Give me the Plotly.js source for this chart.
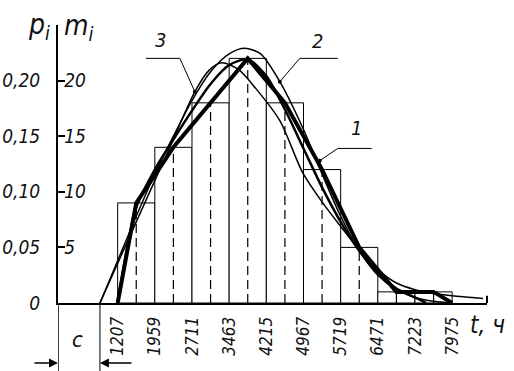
<!DOCTYPE html>
<html>
<head>
<meta charset="utf-8">
<script src="https://cdn.plot.ly/plotly-3.0.1.min.js"></script>
<style>html,body{margin:0;padding:0;background:#fff;}#chart{width:514px;height:371px;}</style>
</head>
<body>
<div id="chart"></div>
<script>
// ---- data ----
const edges = [1207, 1959, 2711, 3463, 4215, 4967, 5719, 6471, 7223, 7975];
const counts = [9, 14, 18, 22, 18, 12, 5, 1, 1];
const pTickVals = [0, 5, 10, 15, 20];
const pTickText = ['0', '0,05', '0,10', '0,15', '0,20'];
const mTickVals = [5, 10, 15, 20, 25];
const mTickText = ['5', '10', '15', '20', ''];
const cShift = 849;

// curve 1 (smoothed empirical)
const curve1T = [1207, 1400, 1583, 1959, 2335, 2711, 3087, 3463, 3839, 4215, 4591, 4967, 5343, 5719, 6095, 6471, 6847, 7223, 7450];
const curve1M = [0, 5.0, 8.6, 12.0, 14.7, 17.3, 19.7, 21.4, 21.9, 20.4, 17.4, 13.9, 10.4, 7.3, 4.7, 2.7, 1.3, 0.5, 0];
// curve 2
const curve2T = [849, 1207, 1583, 1959, 2335, 2711, 3087, 3463, 3780, 4100, 4488, 4967, 5343, 5719, 6095, 6471, 6847, 7223, 7600, 7975];
const curve2M = [0, 3.8, 7.8, 11.6, 15.0, 18.2, 20.8, 22.4, 22.9, 22.4, 19.9, 15.6, 11.6, 7.8, 4.7, 2.5, 1.2, 0.5, 0.15, 0];
// curve 3
const curve3T = [849, 1583, 2203, 2770, 3050, 3315, 3650, 4000, 4488, 4953, 5357, 5700, 6095, 6471, 6847, 7223, 7600, 7975, 8600];
const curve3M = [0, 7.3, 13.4, 19.0, 20.9, 21.6, 21.0, 19.3, 16.4, 11.7, 9.0, 7.0, 4.8, 3.0, 1.8, 1.2, 0.85, 0.65, 0.4];

// ---- derived ----
const mids = counts.map((_, i) => (edges[i] + edges[i + 1]) / 2);
const widths = counts.map((_, i) => edges[i + 1] - edges[i]);
const midX = [], midY = [];
mids.forEach((m, i) => { midX.push(m, m, null); midY.push(0, counts[i], null); });
const polyX = [edges[0]].concat(mids, [edges[edges.length - 1]]);
const polyY = [0].concat(counts, [0]);

const FONT = "'Liberation Sans Narrow', 'DejaVu Sans Condensed', 'Liberation Sans', sans-serif";
const tf = (s) => ({family: FONT, size: s, color: '#111', style: 'italic'});

const traces = [
  {type: 'bar', x: mids, y: counts, width: widths, marker: {color: 'white', line: {color: 'black', width: 1}}, hoverinfo: 'none'},
  {type: 'scatter', mode: 'lines', x: midX, y: midY, line: {color: 'black', width: 1.2, dash: '9px,5px'}, hoverinfo: 'none'},
  {type: 'scatter', mode: 'lines', x: curve3T, y: curve3M, line: {color: 'black', width: 1.5, shape: 'spline', smoothing: 0.8}},
  {type: 'scatter', mode: 'lines', x: curve2T, y: curve2M, line: {color: 'black', width: 1.5, shape: 'spline', smoothing: 0.8}},
  {type: 'scatter', mode: 'lines', x: curve1T, y: curve1M, line: {color: 'black', width: 2.5, shape: 'spline', smoothing: 0.8}},
  {type: 'scatter', mode: 'lines', x: polyX, y: polyY, line: {color: 'black', width: 4}},
  {type: 'scatter', mode: 'markers', x: [2769, 4488, 5296], y: [19.0, 19.9, 12.8], marker: {color: 'black', size: 4}},
  {type: 'scatter', mode: 'lines', x: [0], y: [0], yaxis: 'y2', line: {color: 'rgba(0,0,0,0)'}}
];

const layout = {
  width: 514, height: 371,
  margin: {l: 58, r: 27, t: 25, b: 68, pad: 0},
  paper_bgcolor: 'white', plot_bgcolor: 'white',
  showlegend: false, barmode: 'overlay',
  xaxis: {
    range: [0, 8680], showline: true, linewidth: 2, linecolor: 'black',
    showgrid: false, zeroline: false,
    tickvals: edges, ticktext: edges.map(String), tickangle: -90,
    ticks: 'outside', ticklen: 5, tickcolor: 'rgba(0,0,0,0)',
    tickfont: tf(17)
  },
  yaxis: {
    range: [0, 25], showline: true, linewidth: 2, linecolor: 'black',
    showgrid: false, zeroline: false,
    tickvals: pTickVals, ticktext: pTickText,
    ticks: 'outside', ticklen: 12, tickcolor: 'rgba(0,0,0,0)',
    tickfont: tf(19)
  },
  yaxis2: {
    range: [0, 25], overlaying: 'y', side: 'left', showline: false,
    showgrid: false, zeroline: false,
    tickvals: mTickVals, ticktext: mTickText,
    ticks: 'inside', ticklen: 7, tickwidth: 2, tickcolor: 'black',
    ticklabelposition: 'inside', tickfont: tf(19)
  },
  shapes: [
    {type: 'line', xref: 'x', yref: 'paper', x0: 0, x1: 0, y0: 0, y1: -0.245, line: {color: 'black', width: 1.5}},
    {type: 'line', xref: 'x', yref: 'paper', x0: cShift, x1: cShift, y0: 0, y1: -0.245, line: {color: 'black', width: 1}},
    {type: 'line', xref: 'paper', yref: 'paper', x0: 1, x1: 1, y0: 0, y1: 0.026, line: {color: 'black', width: 2}},
    {type: 'path', xref: 'x', yref: 'y', path: 'M 1779 22.0 L 2466 22.0 L 2769 19.0', line: {color: 'black', width: 1}},
    {type: 'path', xref: 'x', yref: 'y', path: 'M 5660 22.0 L 4892 22.0 L 4488 19.9', line: {color: 'black', width: 1}},
    {type: 'path', xref: 'x', yref: 'y', path: 'M 6347 13.9 L 5660 13.9 L 5296 12.8', line: {color: 'black', width: 1}}
  ],
  annotations: [
    {xref: 'paper', yref: 'paper', x: -0.044, y: 0.995, text: 'p<sub>i</sub>', showarrow: false, font: tf(28), xanchor: 'center', yanchor: 'middle'},
    {xref: 'paper', yref: 'paper', x: 0.05, y: 0.99, text: 'm<sub>i</sub>', showarrow: false, font: tf(28), xanchor: 'center', yanchor: 'middle'},
    {xref: 'paper', yref: 'paper', x: 1.0, y: -0.08, text: 't, ч', showarrow: false, font: tf(24), xanchor: 'center', yanchor: 'middle'},
    {xref: 'paper', yref: 'paper', x: 0.045, y: -0.133, text: 'c', showarrow: false, font: tf(22), xanchor: 'center', yanchor: 'middle'},
    {xref: 'x', yref: 'y', x: 2082, y: 23.65, text: '3', showarrow: false, font: tf(20)},
    {xref: 'x', yref: 'y', x: 5256, y: 23.6, text: '2', showarrow: false, font: tf(20)},
    {xref: 'x', yref: 'y', x: 6044, y: 15.7, text: '1', showarrow: false, font: tf(20)},
    {xref: 'x', yref: 'paper', x: 0, y: -0.216, ax: -25, ay: 0, text: '', showarrow: true, arrowhead: 2, arrowsize: 1.2, arrowwidth: 1.5, arrowcolor: 'black'},
    {xref: 'x', yref: 'paper', x: cShift, y: -0.216, ax: 33, ay: 0, text: '', showarrow: true, arrowhead: 2, arrowsize: 1.2, arrowwidth: 1.5, arrowcolor: 'black'}
  ]
};

Plotly.newPlot('chart', traces, layout, {staticPlot: true, displayModeBar: false});
</script>
</body>
</html>
